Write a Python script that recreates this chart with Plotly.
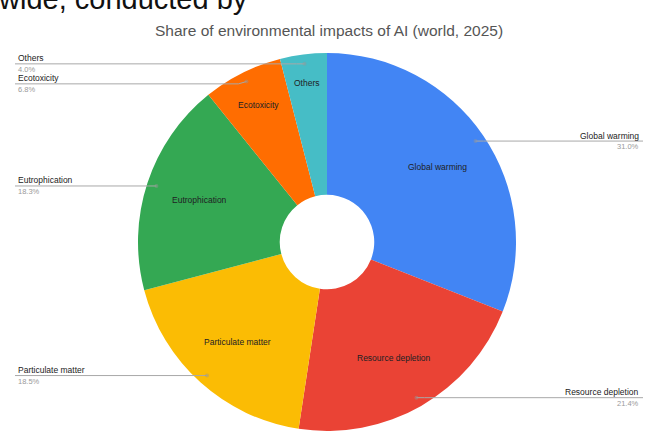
import math
import plotly.graph_objects as go

categories = ["Global warming", "Resource depletion", "Particulate matter",
              "Eutrophication", "Ecotoxicity", "Others"]
shares = [31.0, 21.4, 18.5, 18.3, 6.8, 4.0]
colors = ["#4285F4", "#EA4335", "#FBBC04", "#34A853", "#FF6D01", "#46BDC6"]
title_text = "Share of environmental impacts of AI (world, 2025)"
top_text = "wide, conducted by"

W, H = 645, 443
CX, CY, R = 327, 242, 189   # pie centre / radius in pixels
HOLE = 0.25
MIN_GAP = 20                # min vertical spacing of outside labels (px)


def px(x):
    return x / W


def py(y):
    return 1 - y / H


fig = go.Figure(go.Pie(
    labels=categories,
    values=shares,
    sort=False,
    direction="clockwise",
    rotation=0,
    hole=HOLE,
    marker=dict(colors=colors, line=dict(width=0)),
    textinfo="none",
    hoverinfo="label+percent",
    domain=dict(x=[px(CX - R), px(CX + R)], y=[py(CY + R), py(CY - R)]),
    showlegend=False,
))

annotations = []
shapes = []
font = "Arial, Liberation Sans, sans-serif"

# slice geometry
total = sum(shares)
info = []
cum = 0.0
for name, v in zip(categories, shares):
    frac = v / total
    mid = (cum + frac / 2) * 2 * math.pi
    cum += frac
    s, c = math.sin(mid), math.cos(mid)
    info.append(dict(name=name, v=v, frac=frac, s=s, c=c,
                     dx=CX + 0.95 * R * s, dy=CY - 0.95 * R * c,
                     right=s > 0))

# de-overlap outside labels per side
for side in (True, False):
    items = sorted([d for d in info if d["right"] == side], key=lambda d: d["dy"])
    prev = None
    for d in items:
        d["ly"] = d["dy"] if prev is None else max(d["dy"], prev + MIN_GAP)
        prev = d["ly"]

for d in info:
    s, c, frac, name = d["s"], d["c"], d["frac"], d["name"]

    # inside label (pushed outward for thin slices)
    rf = 0.71 + min(0.14, max(0.0, 0.1 - frac) * 3.1)
    ix, iy = CX + rf * R * s, CY - rf * R * c
    annotations.append(dict(x=px(ix), y=py(iy), xref="paper", yref="paper",
                            text=name, showarrow=False,
                            xanchor="center", yanchor="middle",
                            font=dict(family=font, size=8.5, color="#202124")))

    # leader line + outside label
    dx, dy, ly, right = d["dx"], d["dy"], d["ly"], d["right"]
    ex = 643 if right else 15
    kx = dx + (8 if right else -8)
    path = (f"M {px(dx)},{py(dy)} L {px(kx)},{py(ly)} L {px(ex)},{py(ly)}")
    shapes.append(dict(type="path", xref="paper", yref="paper", path=path,
                       line=dict(color="#a8a8a8", width=1)))
    shapes.append(dict(type="circle", xref="paper", yref="paper",
                       x0=px(dx - 2), y0=py(dy - 2), x1=px(dx + 2), y1=py(dy + 2),
                       fillcolor="rgba(150,150,150,0.45)", line=dict(width=0)))
    tx = 641 if right else 16
    anchor = "right" if right else "left"
    annotations.append(dict(x=px(tx), y=py(ly - 5.5), xref="paper", yref="paper",
                            text=name, showarrow=False, xanchor=anchor,
                            yanchor="middle",
                            font=dict(family=font, size=8.5, color="#222222")))
    annotations.append(dict(x=px(tx), y=py(ly + 5.5), xref="paper", yref="paper",
                            text=f"{d['v']:.1f}%", showarrow=False, xanchor=anchor,
                            yanchor="middle",
                            font=dict(family=font, size=7.5, color="#9a9a9a")))

annotations.append(dict(x=px(329), y=py(31), xref="paper", yref="paper",
                        text=title_text, showarrow=False,
                        xanchor="center", yanchor="middle",
                        font=dict(family=font, size=15.5, color="#555555")))
annotations.append(dict(x=px(-4), y=py(-1), xref="paper", yref="paper",
                        text=top_text, showarrow=False, xanchor="left",
                        yanchor="middle",
                        font=dict(family=font, size=29, color="#111111")))

fig.update_layout(
    width=W, height=H,
    margin=dict(l=0, r=0, t=0, b=0),
    paper_bgcolor="white",
    plot_bgcolor="white",
    annotations=annotations,
    shapes=shapes,
)

fig.write_html(
    "out.html",
    config={"displayModeBar": False},
    post_script="document.body.style.margin='0';"
                "document.body.style.overflow='hidden';",
)
